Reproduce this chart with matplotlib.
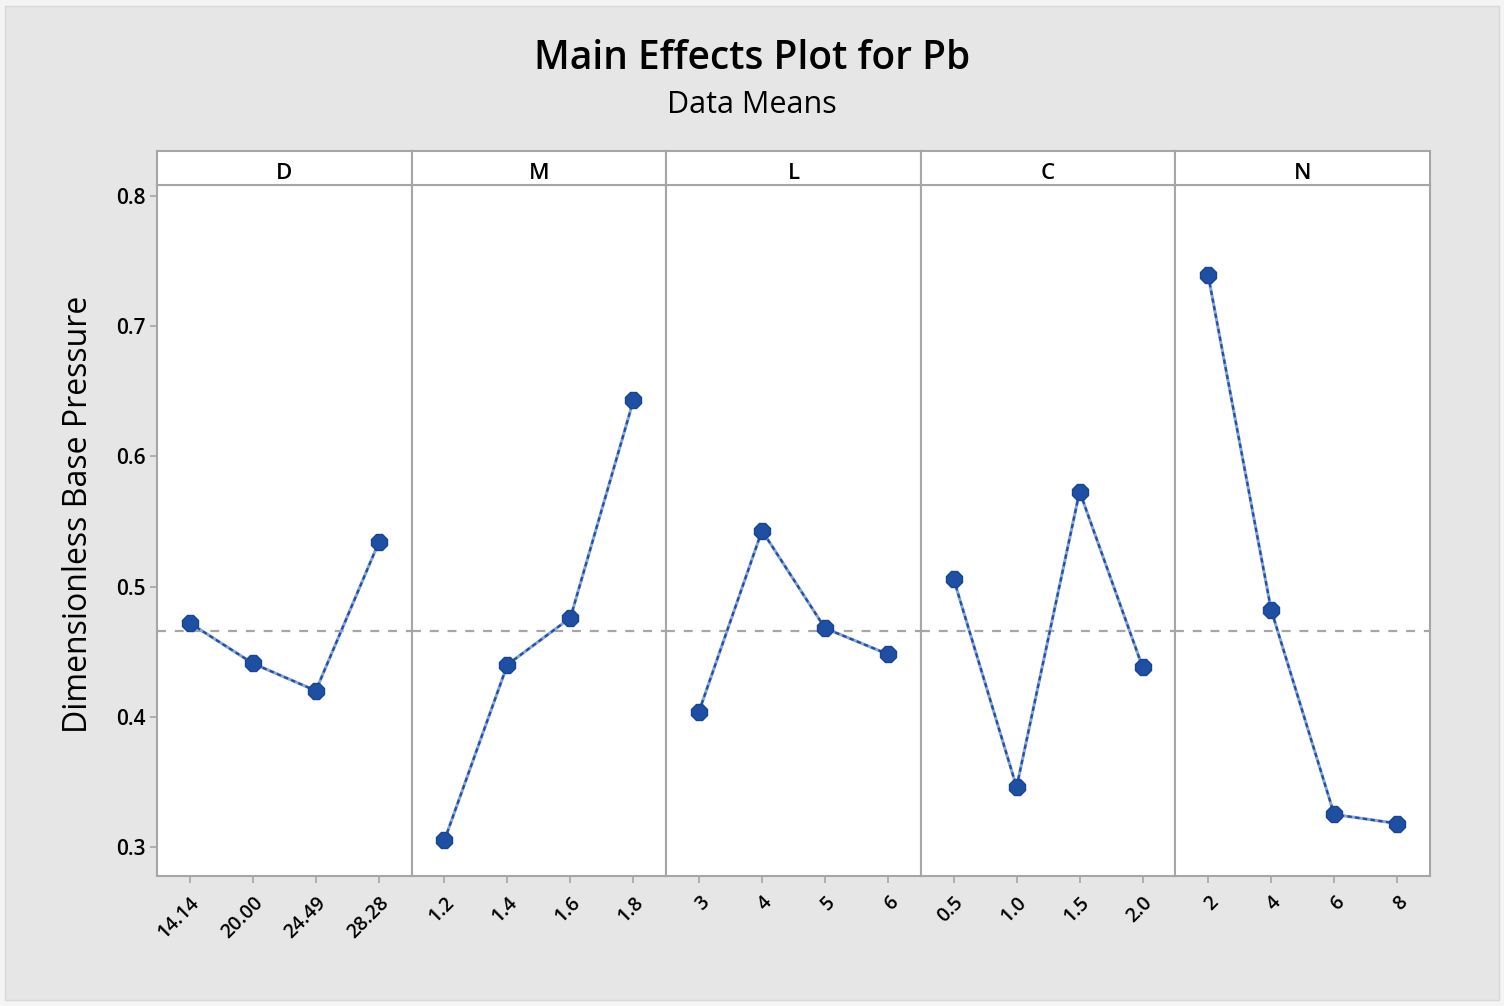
import matplotlib
matplotlib.use("Agg")
import matplotlib.pyplot as plt
from matplotlib.patches import Rectangle

plt.rcParams['font.family'] = ['Open Sans', 'DejaVu Sans']

# datos
factores = ["D", "M", "L", "C", "N"]
niveles = [
    ["14.14", "20.00", "24.49", "28.28"],
    ["1.2", "1.4", "1.6", "1.8"],
    ["3", "4", "5", "6"],
    ["0.5", "1.0", "1.5", "2.0"],
    ["2", "4", "6", "8"],
]
medias = [
    [0.472, 0.441, 0.420, 0.534],
    [0.305, 0.440, 0.476, 0.643],
    [0.404, 0.543, 0.468, 0.448],
    [0.506, 0.346, 0.573, 0.438],
    [0.739, 0.482, 0.325, 0.318],
]
media_global = 0.466
y_ticks = [0.3, 0.4, 0.5, 0.6, 0.7, 0.8]

W, H = 1504, 1006
fig = plt.figure(figsize=(W / 100, H / 100), dpi=100, facecolor="#f4f4f4")
fig.patches.append(Rectangle((5 / W, 6 / H), 1494 / W, 994 / H, transform=fig.transFigure,
                             facecolor="#e6e6e6", edgecolor="#d8d8d8", lw=1, zorder=-10))

gris = "#a6a6a6"
azul = "#1f4fa3"
x0, x1 = 157, 1430
ancho = (x1 - x0) / len(factores)
abajo, arriba, tope = 876, 185, 151

for i, f in enumerate(factores):
    izq = x0 + i * ancho
    ax = fig.add_axes([izq / W, (H - abajo) / H, ancho / W, (abajo - arriba) / H])
    xs = list(range(1, len(niveles[i]) + 1))
    ax.axhline(media_global, color=gris, ls=(0, (4, 4)), lw=1.6, zorder=1)
    ax.plot(xs, medias[i], color="#8aa6d6", lw=2.2, zorder=2)
    ax.plot(xs, medias[i], color=azul, lw=1.6, ls=(0, (2, 1.5)), marker="8",
            markersize=12.5, markerfacecolor=azul, markeredgecolor="#174494", zorder=3)
    ax.set_xlim(0.48, 4.52)
    ax.set_ylim(0.2777, 0.8084)
    ax.set_xticks(xs)
    ax.set_xticklabels(niveles[i], rotation=45, ha="right", rotation_mode="anchor",
                       fontsize=14, fontweight="semibold")
    for s in ax.spines.values():
        s.set_color(gris)
        s.set_linewidth(1.5)
    ax.tick_params(axis="both", direction="out", length=5, color=gris, width=1.2, pad=7)
    if i == 0:
        ax.set_yticks(y_ticks)
        ax.set_yticklabels([f"{v:.1f}" for v in y_ticks], fontsize=15, fontweight="semibold")
        ax.tick_params(axis="y", pad=3)
        ax.set_ylabel("Dimensionless Base Pressure", fontsize=23, fontweight="medium")
        ax.yaxis.set_label_coords(-0.245, 0.524)
    else:
        ax.set_yticks([])

    # encabezado del panel
    cab = fig.add_axes([izq / W, (H - arriba) / H, ancho / W, (arriba - tope) / H])
    cab.set_xticks([])
    cab.set_yticks([])
    for s in cab.spines.values():
        s.set_color(gris)
        s.set_linewidth(1.5)
    cab.text(0.5, 0.35, f, ha="center", va="center", fontsize=16, fontweight="semibold",
             transform=cab.transAxes)

fig.text(0.5, 1 - 59 / H, "Main Effects Plot for Pb", ha="center", va="center",
         fontsize=28, fontweight="semibold")
fig.text(0.5, 1 - 105 / H, "Data Means", ha="center", va="center", fontsize=22,
         fontweight="medium")

fig.savefig("out.png", dpi=100, facecolor=fig.get_facecolor())
